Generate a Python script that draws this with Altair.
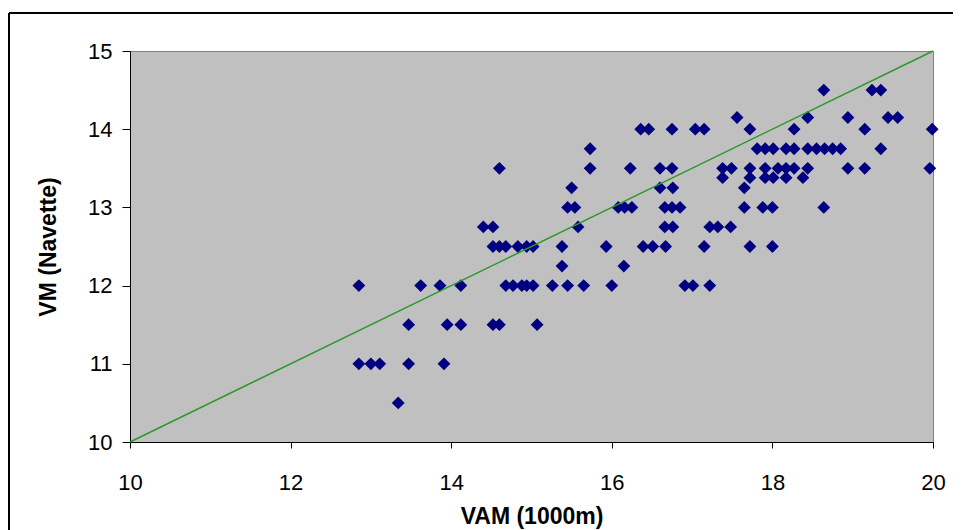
import altair as alt
import pandas as pd

# VM (Navette) levels and the VAM (1000m) values observed at each level
vm_levels = [10.5, 11.0, 11.5, 12.0, 12.25, 12.5, 12.75, 13.0, 13.25, 13.38, 13.5, 13.75, 14.0, 14.15, 14.5]
vam_at_10_5 = [13.34]
vam_at_11_0 = [12.85, 13.0, 13.11, 13.47, 13.91]
vam_at_11_5 = [13.47, 13.95, 14.12, 14.52, 14.60, 15.07]
vam_at_12_0 = [12.85, 13.62, 13.86, 14.12, 14.68, 14.77, 14.88, 14.94, 15.02, 15.26, 15.45, 15.65, 16.0, 16.91, 17.01, 17.22]
vam_at_12_25 = [15.38, 16.15]
vam_at_12_5 = [14.52, 14.60, 14.68, 14.83, 14.94, 15.02, 15.38, 15.93, 16.39, 16.51, 16.67, 17.15, 17.72, 18.0]
vam_at_12_75 = [14.40, 14.52, 15.58, 16.66, 16.76, 17.22, 17.32, 17.48]
vam_at_13_0 = [15.45, 15.54, 16.08, 16.16, 16.25, 16.66, 16.75, 16.85, 17.65, 17.88, 18.0, 18.64]
vam_at_13_25 = [15.50, 16.60, 16.76, 17.65]
vam_at_13_38 = [17.38, 17.72, 17.91, 18.01, 18.17, 18.38]
vam_at_13_5 = [14.60, 15.73, 16.23, 16.60, 16.75, 17.38, 17.49, 17.72, 17.91, 18.07, 18.17, 18.27, 18.44, 18.94, 19.15, 19.96]
vam_at_13_75 = [15.73, 17.81, 17.91, 18.01, 18.17, 18.27, 18.44, 18.55, 18.65, 18.75, 18.85, 19.35]
vam_at_14_0 = [16.36, 16.46, 16.75, 17.04, 17.15, 17.72, 18.27, 19.15, 19.99]
vam_at_14_15 = [17.56, 18.44, 18.94, 19.44, 19.56]
vam_at_14_5 = [18.64, 19.24, 19.35]

vam_groups = [vam_at_10_5, vam_at_11_0, vam_at_11_5, vam_at_12_0, vam_at_12_25, vam_at_12_5,
              vam_at_12_75, vam_at_13_0, vam_at_13_25, vam_at_13_38, vam_at_13_5, vam_at_13_75,
              vam_at_14_0, vam_at_14_15, vam_at_14_5]

# identity line endpoints (y = x/2 + 5)
line_vam = [10, 20]
line_vm = [10, 15]

x_ticks = [10, 12, 14, 16, 18, 20]
y_ticks = [10, 11, 12, 13, 14, 15]

rows = []
for lvl, grp in zip(vm_levels, vam_groups):
    for v in grp:
        rows.append({"vam": v, "vm": lvl})
df = pd.DataFrame(rows)
line_df = pd.DataFrame({"vam": line_vam, "vm": line_vm})

FONT = "Liberation Sans"

xscale = alt.Scale(domain=[10, 20], nice=False, zero=False)
yscale = alt.Scale(domain=[10, 15], nice=False, zero=False)

xaxis = alt.Axis(values=x_ticks, format="d", title="VAM (1000m)", grid=False, tickSize=6,
                 labelPadding=34, labelBaseline="middle", titleX=401.5, titleY=74,
                 titleBaseline="middle", labelFlush=False)
yaxis = alt.Axis(values=y_ticks, format="d", title="VM (Navette)", grid=False, tickSize=8,
                 labelPadding=10, titleX=-82, titleY=195.5, titleBaseline="middle",
                 titleAngle=-90, labelFlush=False)

points = alt.Chart(df).mark_point(shape="diamond", filled=True, size=165,
                                  color="#000080", opacity=1).encode(
    x=alt.X("vam:Q", scale=xscale, axis=xaxis),
    y=alt.Y("vm:Q", scale=yscale, axis=yaxis),
)

line = alt.Chart(line_df).mark_line(color="#2a992a", strokeWidth=1.5).encode(
    x=alt.X("vam:Q", scale=xscale),
    y=alt.Y("vm:Q", scale=yscale),
)

frame_top = alt.Chart().mark_rule(color="black", strokeWidth=2).encode(
    x=alt.value(-121), x2=alt.value(860), y=alt.value(-38))
frame_left = alt.Chart().mark_rule(color="black", strokeWidth=2).encode(
    x=alt.value(-121), y=alt.value(-38), y2=alt.value(480))

chart = alt.layer(points, line, frame_top, frame_left).properties(
    width=803, height=391,
    padding={"left": 122, "top": 43, "right": 20, "bottom": 88},
    autosize="none",
    background="white",
).configure_view(
    fill="#c0c0c0", stroke="#808080", strokeWidth=1
).configure_axis(
    domainColor="black", tickColor="black", domainWidth=1, tickWidth=1,
    labelFont=FONT, labelFontSize=22, labelColor="black",
    titleFont=FONT, titleFontSize=23, titleFontWeight="bold", titleColor="black",
)

chart.save("out.html", embed_options={"renderer": "svg", "actions": False})
